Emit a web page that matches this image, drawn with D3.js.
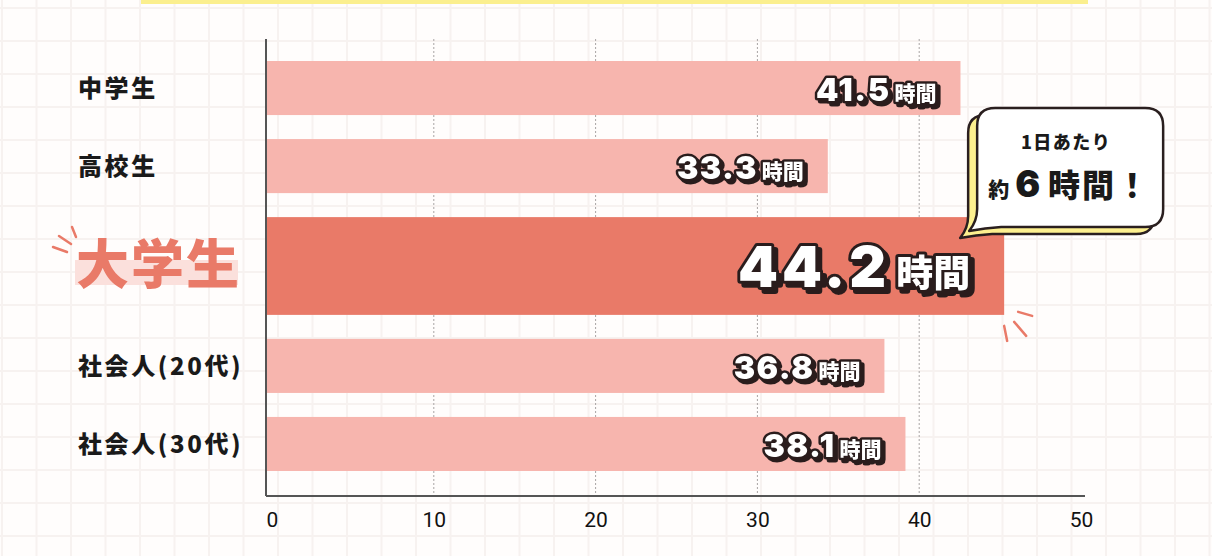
<!DOCTYPE html>
<html>
<head>
<meta charset="utf-8">
<script src="https://cdn.jsdelivr.net/npm/d3@7/dist/d3.min.js"></script>
<style>
html, body { margin: 0; padding: 0; background: #fffdfc; }
svg { display: block; }
</style>
</head>
<body>
<svg width="1212" height="556"></svg>
<script>
var categories = ["中学生", "高校生", "大学生", "社会人(20代)", "社会人(30代)"];
var hours = [41.5, 33.3, 44.2, 36.8, 38.1];
var unit = "時間";
var highlight = "大学生";
var xTicks = [0, 10, 20, 30, 40, 50];
var calloutTop = "1日あたり";
var calloutMain = ["約", "6", "時間", "！"];

var svg = d3.select("svg");
var width = +svg.attr("width");
var height = +svg.attr("height");

var pink = "#f7b5ae", coral = "#e97a68", ink = "#2a1f1f";
var jp = "'Noto Sans CJK JP', 'Noto Sans', sans-serif";
var num = "Inter, 'Noto Sans', sans-serif";

// hard offset shadow for the value labels
var defs = svg.append("defs");
function shadowFilter(id, off) {
  var f = defs.append("filter").attr("id", id).attr("x", "-10%").attr("y", "-30%").attr("width", "130%").attr("height", "170%");
  f.append("feOffset").attr("in", "SourceAlpha").attr("dx", off).attr("dy", off).attr("result", "o");
  f.append("feFlood").attr("flood-color", ink).attr("result", "c");
  f.append("feComposite").attr("in", "c").attr("in2", "o").attr("operator", "in").attr("result", "s");
  var m = f.append("feMerge");
  m.append("feMergeNode").attr("in", "s");
  m.append("feMergeNode").attr("in", "SourceGraphic");
}
shadowFilter("sh-small", 2.5);
shadowFilter("sh-big", 3.5);

// paper grid
var bg = svg.append("g");
bg.selectAll(".gv").data(d3.range(2, width, 34.5)).enter().append("line")
  .attr("x1", function(d) { return d; }).attr("x2", function(d) { return d; })
  .attr("y1", 0).attr("y2", height)
  .attr("stroke", "#f7f2f0").attr("stroke-width", 2);
bg.selectAll(".gh").data(d3.range(8, height, 33)).enter().append("line")
  .attr("y1", function(d) { return d; }).attr("y2", function(d) { return d; })
  .attr("x1", 0).attr("x2", width)
  .attr("stroke", "#f7f2f0").attr("stroke-width", 2);

// bottom of the title box above
svg.append("rect").attr("x", 141).attr("y", 0).attr("width", 947).attr("height", 4).attr("fill", "#fbef8e");

var x = d3.scaleLinear().domain([0, 50]).range([272, 1081]);
var axisX = 266, axisTop = 39, axisBottom = 496;
var barOvershoot = 17;

var weights = categories.map(function(c) { return c === highlight ? 1.56 : 1; });
var starts = [];
var acc = 0;
weights.forEach(function(w) { starts.push(acc); acc += w; });
var y = d3.scaleLinear().domain([0, acc]).range([49, 483]);

var rows = categories.map(function(c, i) {
  var top = y(starts[i]), bottom = y(starts[i] + weights[i]);
  return { name: c, value: hours[i], hi: c === highlight, top: top + 12, h: bottom - top - 24, cy: (top + bottom) / 2 };
});

// dotted gridlines
svg.selectAll(".grid").data(xTicks.slice(1, -1)).enter().append("line")
  .attr("x1", function(d) { return x(d); }).attr("x2", function(d) { return x(d); })
  .attr("y1", axisTop).attr("y2", axisBottom)
  .attr("stroke", "#a8a4a4").attr("stroke-width", 1).attr("stroke-dasharray", "2,2");

// bars
svg.selectAll(".bar").data(rows).enter().append("rect")
  .attr("x", axisX)
  .attr("y", function(d) { return d.top; })
  .attr("width", function(d) { return x(d.value) + barOvershoot - axisX; })
  .attr("height", function(d) { return d.h; })
  .attr("fill", function(d) { return d.hi ? coral : pink; });

// axes
var xAxis = svg.append("g").attr("transform", "translate(0," + axisBottom + ")")
  .call(d3.axisBottom(x).tickValues(xTicks).tickSize(0).tickPadding(16));
xAxis.select(".domain").remove();
xAxis.selectAll("text").attr("font-family", "Roboto, sans-serif").attr("font-size", 21).attr("fill", "#111");

svg.append("line").attr("x1", axisX).attr("x2", 1085).attr("y1", axisBottom).attr("y2", axisBottom)
  .attr("stroke", "#555").attr("stroke-width", 2);
svg.append("line").attr("x1", axisX).attr("x2", axisX).attr("y1", axisTop).attr("y2", axisBottom)
  .attr("stroke", "#555").attr("stroke-width", 2);

// category labels
var normal = rows.filter(function(d) { return !d.hi; });
svg.selectAll(".cat").data(normal).enter().append("text")
  .attr("x", 78).attr("y", function(d) { return d.cy + 9; })
  .attr("font-family", jp).attr("font-weight", 900).attr("font-size", 24)
  .attr("letter-spacing", 2.6).attr("fill", "#1a1a1a")
  .text(function(d) { return d.name; });

var hiRow = rows.filter(function(d) { return d.hi; })[0];
svg.append("rect").attr("x", 75).attr("y", hiRow.cy - 6).attr("width", 163).attr("height", 25).attr("fill", "#fbe0dc");
svg.append("text")
  .attr("x", 76).attr("y", hiRow.cy + 18)
  .attr("font-family", jp).attr("font-weight", 900).attr("font-size", 53)
  .attr("letter-spacing", 2).attr("fill", coral)
  .text(hiRow.name);

var rays = [
  [[53, -19], [67, -14]],
  [[59, -30], [71, -22]],
  [[72, -39], [76, -29]]
];
svg.selectAll(".ray").data(rays).enter().append("line")
  .attr("x1", function(d) { return d[0][0]; }).attr("y1", function(d) { return hiRow.cy + d[0][1]; })
  .attr("x2", function(d) { return d[1][0]; }).attr("y2", function(d) { return hiRow.cy + d[1][1]; })
  .attr("stroke", coral).attr("stroke-width", 2.5).attr("stroke-linecap", "round");

var barEnd = x(hiRow.value) + barOvershoot;
var rays2 = [
  [[14, -3], [28, 1]],
  [[10, 7], [22, 21]],
  [[0, 11], [3, 26]]
];
svg.selectAll(".ray2").data(rays2).enter().append("line")
  .attr("x1", function(d) { return barEnd + d[0][0]; }).attr("y1", function(d) { return hiRow.top + hiRow.h + d[0][1]; })
  .attr("x2", function(d) { return barEnd + d[1][0]; }).attr("y2", function(d) { return hiRow.top + hiRow.h + d[1][1]; })
  .attr("stroke", coral).attr("stroke-width", 2.5).attr("stroke-linecap", "round");

// value labels, white with dark outline and drop shadow
rows.forEach(function(d) {
  var big = d.hi;
  var t = svg.append("text")
    .attr("x", x(d.value) + barOvershoot - (big ? 34 : 24))
    .attr("y", d.cy + (big ? 21 : 13))
    .attr("text-anchor", "end")
    .attr("filter", big ? "url(#sh-big)" : "url(#sh-small)")
    .attr("fill", "#fff").attr("stroke", ink).attr("stroke-width", big ? 6 : 5)
    .attr("stroke-linejoin", "round").attr("paint-order", "stroke");
  t.append("tspan").attr("font-family", num).attr("font-weight", 900)
    .attr("font-size", big ? 57 : 32).attr("letter-spacing", big ? 4 : 1.5)
    .text(d3.format(".1f")(d.value));
  t.append("tspan").attr("dx", big ? 6 : 4).attr("font-family", jp).attr("font-weight", 900)
    .attr("font-size", big ? 37 : 21)
    .text(unit);
});

// callout bubble
var bx0 = barEnd - 27, by0 = 108, bx1 = bx0 + 186, by1 = 227, r = 18;
function bubble(ox, oy) {
  var p = d3.path();
  p.moveTo(bx0 + r + ox, by0 + oy);
  p.lineTo(bx1 - r + ox, by0 + oy);
  p.quadraticCurveTo(bx1 + ox, by0 + oy, bx1 + ox, by0 + r + oy);
  p.lineTo(bx1 + ox, by1 - r + oy);
  p.quadraticCurveTo(bx1 + ox, by1 + oy, bx1 - r + ox, by1 + oy);
  p.lineTo(bx0 + 24 + ox, by1 + oy);
  p.quadraticCurveTo(bx0 + 8 + ox, by1 + 1 + oy, bx0 - 8 + ox, by1 + 4 + oy);
  p.quadraticCurveTo(bx0 + ox, by1 - 6 + oy, bx0 + ox, by1 - 18 + oy);
  p.lineTo(bx0 + ox, by0 + r + oy);
  p.quadraticCurveTo(bx0 + ox, by0 + oy, bx0 + r + ox, by0 + oy);
  p.closePath();
  return p.toString();
}
svg.append("path").attr("d", bubble(-9, 7)).attr("fill", "#fdf08f").attr("stroke", ink).attr("stroke-width", 2.5).attr("stroke-linejoin", "round");
svg.append("path").attr("d", bubble(0, 0)).attr("fill", "#fff").attr("stroke", ink).attr("stroke-width", 2.5).attr("stroke-linejoin", "round");

var cx = (bx0 + bx1) / 2;
svg.append("text").attr("x", cx - 4).attr("y", 149).attr("text-anchor", "middle")
  .attr("font-family", jp).attr("font-weight", 900).attr("font-size", 18).attr("letter-spacing", 1.5)
  .attr("fill", "#1a1a1a").text(calloutTop);

var ct = svg.append("text").attr("x", cx - 2).attr("y", 197).attr("text-anchor", "middle").attr("fill", "#1a1a1a");
ct.append("tspan").attr("font-family", jp).attr("font-weight", 900).attr("font-size", 21).text(calloutMain[0]);
ct.append("tspan").attr("dx", 6).attr("font-family", num).attr("font-weight", 900).attr("font-size", 37).text(calloutMain[1]);
ct.append("tspan").attr("dx", 8).attr("font-family", jp).attr("font-weight", 900).attr("font-size", 32).attr("letter-spacing", 2).text(calloutMain[2]);
ct.append("tspan").attr("dx", 0).attr("font-family", jp).attr("font-weight", 900).attr("font-size", 32).text(calloutMain[3]);
</script>
</body>
</html>
